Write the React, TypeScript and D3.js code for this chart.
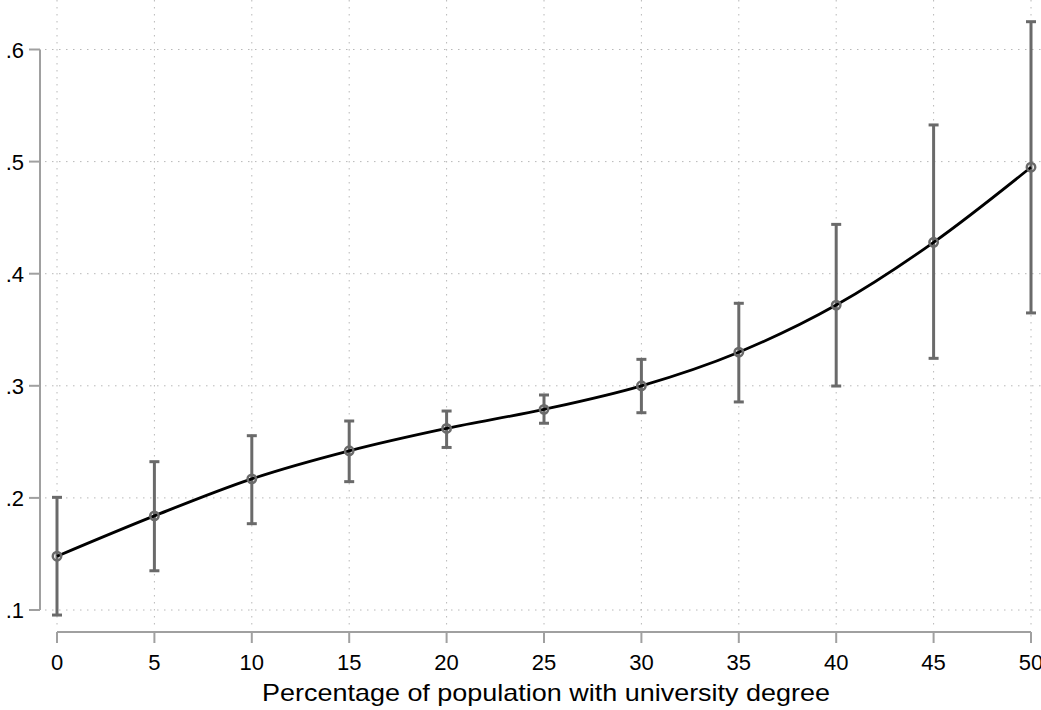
import React from "react";
import * as d3 from "d3";

const xValues = [0, 5, 10, 15, 20, 25, 30, 35, 40, 45, 50];
const estimates = [0.148, 0.184, 0.217, 0.242, 0.262, 0.279, 0.300, 0.330, 0.372, 0.428, 0.495];
const ciLower = [0.0955, 0.135, 0.177, 0.2145, 0.245, 0.2666, 0.276, 0.2856, 0.2998, 0.3245, 0.365];
const ciUpper = [0.2005, 0.2323, 0.2555, 0.2686, 0.2775, 0.2918, 0.3236, 0.3736, 0.444, 0.5327, 0.6248];
const xTicks = [0, 5, 10, 15, 20, 25, 30, 35, 40, 45, 50];
const yTicks = [0.1, 0.2, 0.3, 0.4, 0.5, 0.6];
const xTitle = "Percentage of population with university degree";

export default function App() {
  const W = 1041;
  const H = 710;
  const x = d3.scaleLinear().domain([0, 50]).range([57, 1031]);
  const y = d3.scaleLinear().domain([0.1, 0.6]).range([610, 49.5]);
  const font = "Arial, 'Liberation Sans', Helvetica, sans-serif";
  const axisColor = "#a0a0a0";
  const gridColor = "#b8b8b8";
  const barColor = "#6a6a6a";

  const pts = xValues.map((v, i) => [x(v), y(estimates[i])] as [number, number]);
  const line = d3.line().curve(d3.curveMonotoneX)(pts) || "";
  const fmt = (v: number) => d3.format(".1f")(v).replace(/^0/, "");

  return (
    <svg width={W} height={H} style={{ position: "absolute", left: 0, top: 0, background: "#fff" }}>
      <rect x={0} y={0} width={W} height={H} fill="#fff" />
      {/* gridlines */}
      {xTicks.map((t) => (
        <line key={"gx" + t} x1={x(t)} x2={x(t)} y1={0} y2={626} stroke={gridColor} strokeWidth={1} strokeDasharray="1.5 5.5" />
      ))}
      {yTicks.map((t) => (
        <line key={"gy" + t} x1={45} x2={W} y1={y(t)} y2={y(t)} stroke={gridColor} strokeWidth={1} strokeDasharray="1.5 5.5" />
      ))}
      {/* y axis */}
      <line x1={40} x2={40} y1={y(0.6)} y2={y(0.1)} stroke={axisColor} strokeWidth={2} />
      {yTicks.map((t) => (
        <g key={"yt" + t}>
          <line x1={29} x2={40} y1={y(t)} y2={y(t)} stroke={axisColor} strokeWidth={2} />
          <text x={24} y={y(t) + 8} textAnchor="end" fontFamily={font} fontSize={22} fill="#000">
            {fmt(t)}
          </text>
        </g>
      ))}
      {/* x axis */}
      <line x1={x(0)} x2={x(50)} y1={632} y2={632} stroke={axisColor} strokeWidth={2} />
      {xTicks.map((t) => (
        <g key={"xt" + t}>
          <line x1={x(t)} x2={x(t)} y1={632} y2={643} stroke={axisColor} strokeWidth={2} />
          <text x={x(t)} y={670} textAnchor="middle" fontFamily={font} fontSize={22} fill="#000">
            {t}
          </text>
        </g>
      ))}
      <text x={546} y={701} textAnchor="middle" fontFamily={font} fontSize={24} fill="#000" textLength={568} lengthAdjust="spacingAndGlyphs">
        {xTitle}
      </text>
      {/* error bars */}
      {xValues.map((v, i) => (
        <g key={"eb" + v} stroke={barColor} strokeWidth={3}>
          <line x1={x(v)} x2={x(v)} y1={y(ciLower[i])} y2={y(ciUpper[i])} />
          <line x1={x(v) - 5} x2={x(v) + 5} y1={y(ciLower[i])} y2={y(ciLower[i])} />
          <line x1={x(v) - 5} x2={x(v) + 5} y1={y(ciUpper[i])} y2={y(ciUpper[i])} />
        </g>
      ))}
      {/* line */}
      <path d={line} fill="none" stroke="#000" strokeWidth={2.8} />
      {/* markers */}
      {pts.map((p, i) => (
        <circle key={"m" + i} cx={p[0]} cy={p[1]} r={4.2} fill="none" stroke={barColor} strokeWidth={2.5} />
      ))}
    </svg>
  );
}
